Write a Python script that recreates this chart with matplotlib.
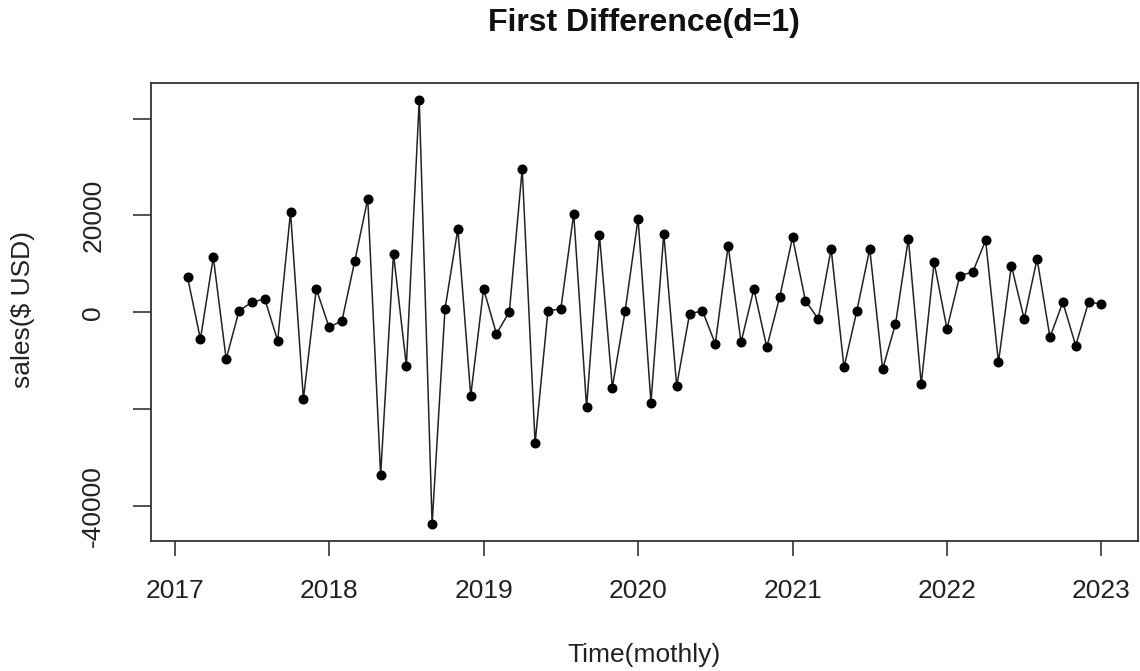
import numpy as np
import matplotlib
matplotlib.use("Agg")
import matplotlib.pyplot as plt

plt.rcParams['font.family'] = ['Liberation Sans', 'DejaVu Sans']

title = "First Difference(d=1)"
xlabel = "Time(mothly)"
ylabel = "sales($ USD)"

start_year = 2017
start_month = 2  # first differenced value is Feb 2017

diff_values = [
    7250, -5500, 11400, -9650, 350, 2100, 2780, -5850, 20700, -17900, 4850,
    -3100, -1700, 10700, 23450, -33600, 12100, -11000, 43830, -43670, 700,
    17250, -17200, 4850, -4450, 150, 29650, -27000, 350, 700, 20350, -19600,
    15900, -15500, 350, 19350, -18600, 16250, -15150, -330, 350, -6500,
    13800, -6200, 4850, -7200, 3100, 15500, 2420, -1370, 13100, -11350, 350,
    13100, -11700, -2400, 15200, -14800, 10350, -3400, 7600, 8300, 14850,
    -10300, 9650, -1370, 11050, -5150, 2100, -6850, 2100, 1750,
]

x_ticks = [2017, 2018, 2019, 2020, 2021, 2022, 2023]
y_ticks = [-40000, -20000, 0, 20000, 40000]
y_tick_labels = ["-40000", "", "0", "20000", ""]

t = start_year + (start_month - 1 + np.arange(len(diff_values))) / 12.0

fig = plt.figure(figsize=(11.4, 6.71), dpi=100)
ax = fig.add_axes([151 / 1140, 1 - 541 / 671, (1138 - 151) / 1140, (541 - 83) / 671])

ax.plot(t, diff_values, color='#222222', lw=1.1, marker='o', ms=6.2,
        markerfacecolor='black', markeredgecolor='black')

span_x = t[-1] - t[0]
ax.set_xlim(t[0] - 0.04 * span_x, t[-1] + 0.04 * span_x)
ymin, ymax = min(diff_values), max(diff_values)
span_y = ymax - ymin
ax.set_ylim(ymin - 0.04 * span_y, ymax + 0.04 * span_y)

ax.set_xticks(x_ticks)
ax.set_xticklabels([str(v) for v in x_ticks], fontsize=19, color='#222222')
ax.set_yticks(y_ticks)
ax.set_yticklabels(y_tick_labels, fontsize=19, rotation=90, va='center', color='#222222')

ax.tick_params(axis='x', length=11, width=1.2, pad=16, color='#333333')
ax.tick_params(axis='y', length=13, width=1.2, pad=20, color='#333333')
for s in ax.spines.values():
    s.set_color('#333333')
    s.set_linewidth(1.3)

fig.text(644 / 1140, 1 - 23 / 671, title, ha='center', va='center',
         fontsize=23, fontweight='bold', color='#111111')
fig.text(644 / 1140, 1 - 655 / 671, xlabel, ha='center', va='center',
         fontsize=19, color='#222222')
fig.text(23 / 1140, 1 - 310 / 671, ylabel, ha='center', va='center',
         fontsize=19, rotation=90, color='#222222')

fig.savefig("out.png", dpi=100)
